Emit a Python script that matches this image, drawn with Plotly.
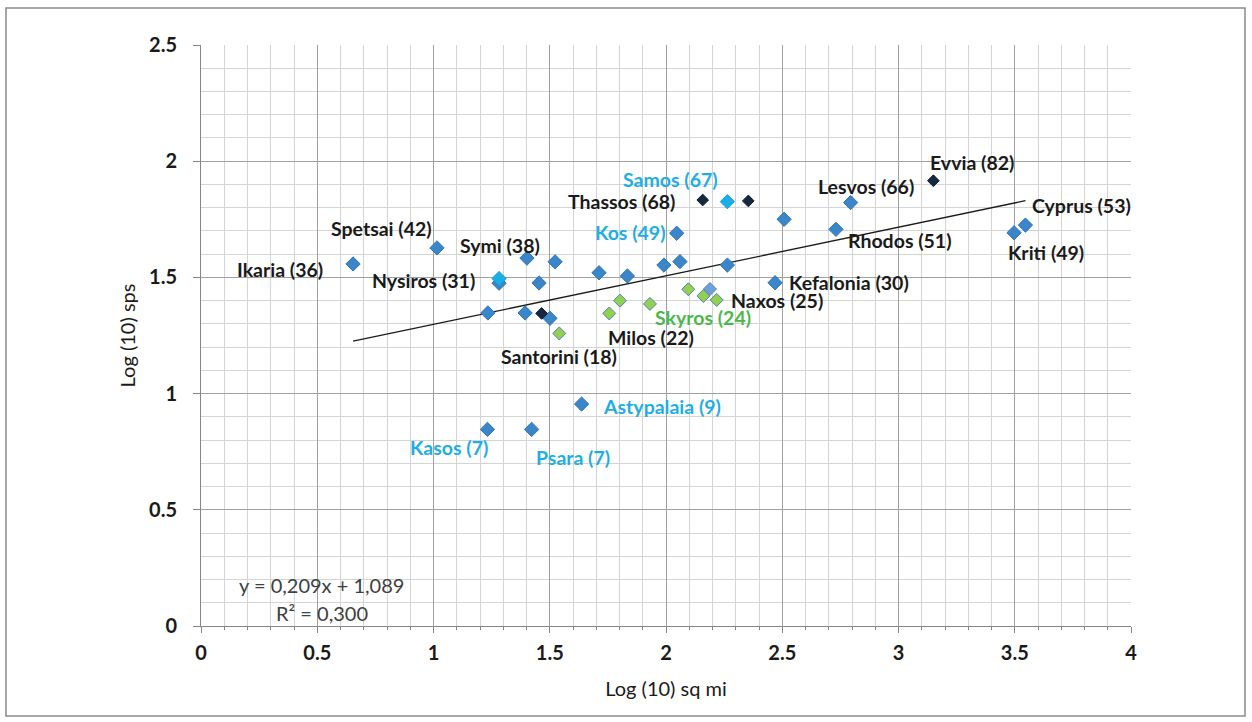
import plotly.graph_objects as go

# ---------------- data ----------------
# Regular blue points
blue_x = [0.654, 1.015, 1.402, 1.282, 1.454, 1.234, 1.394, 1.501, 1.523, 1.712, 1.834,
          1.991, 2.060, 2.046, 2.264, 2.508, 2.469, 2.731, 2.794, 3.497, 3.546,
          1.637, 1.232, 1.422]
blue_y = [1.558, 1.627, 1.583, 1.475, 1.476, 1.347, 1.347, 1.324, 1.567, 1.520, 1.506,
          1.553, 1.568, 1.690, 1.553, 1.750, 1.477, 1.707, 1.822, 1.692, 1.725,
          0.955, 0.846, 0.846]
blue_lab = ["Ikaria (36)", "Spetsai (42)", "Symi (38)", "", "", "", "", "", "", "", "",
            "", "", "Kos (49)", "", "", "Kefalonia (30)", "Rhodos (51)", "Lesvos (66)",
            "Kriti (49)", "Cyprus (53)", "Astypalaia (9)", "Kasos (7)", "Psara (7)"]

# Cyan points
cyan_x = [1.282, 2.264]
cyan_y = [1.495, 1.826]
cyan_lab = ["Nysiros (31)", "Samos (67)"]

# Dark navy points
dark_x = [2.158, 2.354, 3.150, 1.465]
dark_y = [1.833, 1.829, 1.916, 1.345]
dark_lab = ["Thassos (68)", "", "Evvia (82)", ""]

# Green points
green_x = [1.541, 1.756, 1.802, 1.931, 2.096, 2.161, 2.218]
green_y = [1.259, 1.345, 1.400, 1.386, 1.449, 1.420, 1.403]
green_lab = ["Santorini (18)", "", "", "Milos (22)", "", "Skyros (24)", "Naxos (25)"]

# Light blue point
light_x = [2.189]
light_y = [1.450]

# Trend line (as printed on chart)
slope = 0.209
intercept = 1.089
eq_text = "y = 0,209x + 1,089"
r2_text = "R² = 0,300"

x_title = "Log (10) sq mi"
y_title = "Log (10) sps"

# ---------------- styling ----------------
CYAN_TXT = "#1eaee6"
GREEN_TXT = "#4cb848"
label_color = {"Samos (67)": CYAN_TXT, "Kos (49)": CYAN_TXT, "Astypalaia (9)": CYAN_TXT,
               "Kasos (7)": CYAN_TXT, "Psara (7)": CYAN_TXT, "Skyros (24)": GREEN_TXT}
# pixel offsets of label centre relative to its marker (dx right, dy down)
label_off = {
    "Ikaria (36)": (-73, 6), "Spetsai (42)": (-55, -19), "Symi (38)": (-27, -13),
    "Nysiros (31)": (-76, 2), "Santorini (18)": (0, 23), "Samos (67)": (-57, -22),
    "Thassos (68)": (-81, 1), "Kos (49)": (-47, -1), "Milos (22)": (1, 34),
    "Skyros (24)": (0, 22), "Naxos (25)": (60, 1), "Kefalonia (30)": (74, 0),
    "Lesvos (66)": (15, -16), "Rhodos (51)": (64, 11), "Evvia (82)": (39, -18),
    "Cyprus (53)": (56, -20), "Kriti (49)": (32, 20), "Astypalaia (9)": (80, 2),
    "Kasos (7)": (-38, 18), "Psara (7)": (41, 28),
}

FONT = "Lato"
FS = 20
LFS = 19.5

fig = go.Figure()

# trend line over data range
all_x = blue_x + cyan_x + dark_x + green_x + light_x
x0, x1 = min(all_x), max(all_x)
fig.add_trace(go.Scatter(x=[x0, x1], y=[slope * x0 + intercept, slope * x1 + intercept],
                         mode="lines", line=dict(color="#1a1a1a", width=1.3),
                         hoverinfo="skip", showlegend=False))

def add_pts(xs, ys, fill, edge, size):
    fig.add_trace(go.Scatter(x=xs, y=ys, mode="markers",
                             marker=dict(symbol="diamond", size=size, color=fill,
                                         line=dict(color=edge, width=1)),
                             showlegend=False))

add_pts(blue_x, blue_y, "#3b86c8", "#2f74b5", 11)
add_pts(green_x, green_y, "#92d050", "#4f81bd", 10)
add_pts(light_x, light_y, "#6fa0dc", "#4f81bd", 10)
add_pts(cyan_x, cyan_y, "#1aaee8", "#1a9fd8", 11)
add_pts(dark_x, dark_y, "#142840", "#0d1c30", 9)

anns = []
for xs, ys, labs in [(blue_x, blue_y, blue_lab), (cyan_x, cyan_y, cyan_lab),
                     (dark_x, dark_y, dark_lab), (green_x, green_y, green_lab)]:
    for xv, yv, lab in zip(xs, ys, labs):
        if not lab:
            continue
        dx, dy = label_off[lab]
        anns.append(dict(x=xv, y=yv, xref="x", yref="y", text=lab, showarrow=False,
                         xanchor="center", yanchor="middle", xshift=dx, yshift=-dy,
                         font=dict(family=FONT, size=LFS, color=label_color.get(lab, "#1a1a1a"),
                                   weight="bold")))

anns.append(dict(x=0.52, y=0.176, xref="x", yref="y", text=eq_text, showarrow=False,
                 xanchor="center", yanchor="middle",
                 font=dict(family=FONT, size=FS, color="#404040")))
anns.append(dict(x=0.52, y=0.056, xref="x", yref="y", text=r2_text, showarrow=False,
                 xanchor="center", yanchor="middle",
                 font=dict(family=FONT, size=FS, color="#404040")))

fig.update_layout(
    width=1252, height=722,
    margin=dict(l=201, r=121, t=45, b=96),
    paper_bgcolor="white", plot_bgcolor="white",
    annotations=anns,
    shapes=[dict(type="rect", xref="paper", yref="paper", x0=-0.2097, x1=1.1226,
                 y0=-0.1549, y1=1.0637, line=dict(color="#8a8a8a", width=1.5),
                 fillcolor="rgba(0,0,0,0)", layer="below")],
)

fig.update_xaxes(range=[0, 4], dtick=0.5, tick0=0, showgrid=True, gridcolor="#a0a0a0",
                 gridwidth=1, zeroline=False, showline=True, linecolor="#868686", linewidth=1,
                 ticks="outside", ticklen=6, tickcolor="#868686",
                 tickfont=dict(family=FONT, size=FS, color="#1a1a1a", weight="bold"),
                 ticklabelstandoff=3,
                 minor=dict(dtick=0.1, showgrid=True, gridcolor="#d4d4d4", ticks="outside",
                            ticklen=3, tickcolor="#868686"),
                 title=dict(text=x_title, standoff=18,
                            font=dict(family=FONT, size=FS, color="#1a1a1a")))
fig.update_yaxes(range=[0, 2.5], dtick=0.5, tick0=0, showgrid=True, gridcolor="#a0a0a0",
                 gridwidth=1, zeroline=False, showline=True, linecolor="#868686", linewidth=1,
                 ticks="outside", ticklen=7, tickcolor="#868686",
                 tickfont=dict(family=FONT, size=FS, color="#1a1a1a", weight="bold"),
                 ticklabelstandoff=12,
                 minor=dict(dtick=0.1, showgrid=True, gridcolor="#d4d4d4"),
                 title=dict(text=y_title, standoff=8,
                            font=dict(family=FONT, size=FS, color="#1a1a1a")))

fig.write_html("out.html", config={"displayModeBar": False},
               post_script="document.body.style.margin='0';")
